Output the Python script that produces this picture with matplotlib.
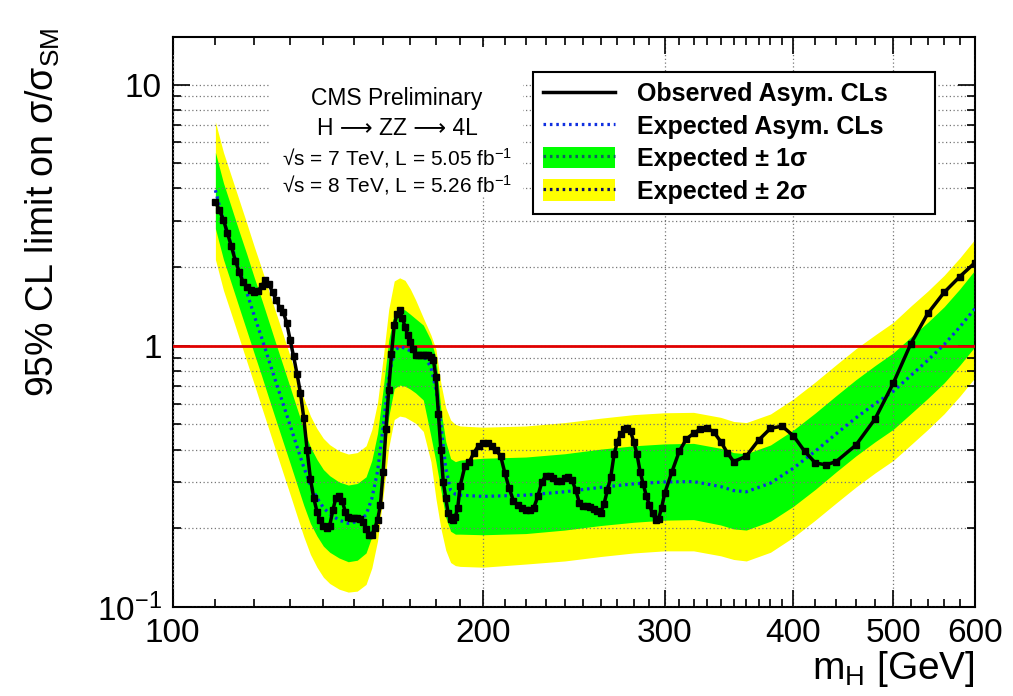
import matplotlib
matplotlib.use("Agg")
import matplotlib.pyplot as plt
from matplotlib.lines import Line2D
from matplotlib.patches import Patch, Rectangle
from matplotlib.ticker import FixedLocator, FixedFormatter, NullFormatter

plt.rcParams["font.family"] = ["Liberation Sans", "DejaVu Sans"]
plt.rcParams["mathtext.fontset"] = "custom"
plt.rcParams["mathtext.rm"] = "Liberation Sans"
plt.rcParams["mathtext.it"] = "Liberation Sans:italic"

# expected limit and bands
mass_exp = [110, 112, 114, 116, 118, 120, 122, 124, 126, 128, 130, 132, 134, 136, 138,
            140, 142, 145, 148, 151, 154, 156, 158, 160, 162, 164, 166, 168, 170, 172,
            175, 178, 180, 182, 184, 186, 188, 190, 200, 220, 240, 260, 280, 300, 320,
            340, 350, 360, 380, 400, 420, 440, 460, 480, 500, 520, 540, 560, 580, 600]
exp_median = [3.94, 3.00, 2.42, 1.96, 1.60, 1.30, 1.07, 0.876, 0.721, 0.597, 0.495, 0.411,
              0.343, 0.293, 0.262, 0.240, 0.227, 0.215, 0.209, 0.212, 0.225, 0.260, 0.33,
              0.49, 0.75, 0.96, 0.99, 0.98, 0.955, 0.935, 0.92, 0.83, 0.68, 0.50, 0.34,
              0.28, 0.27, 0.268, 0.265, 0.268, 0.276, 0.287, 0.296, 0.301, 0.302, 0.289,
              0.279, 0.276, 0.298, 0.340, 0.395, 0.460, 0.53, 0.60, 0.67, 0.77, 0.88,
              1.01, 1.18, 1.39]
exp_hi1 = [5.5, 4.2, 3.39, 2.74, 2.24, 1.82, 1.50, 1.23, 1.01, 0.836, 0.693, 0.575, 0.480,
           0.410, 0.367, 0.336, 0.318, 0.301, 0.293, 0.297, 0.315, 0.364, 0.462, 0.686,
           1.05, 1.34, 1.39, 1.37, 1.32, 1.27, 1.20, 1.05, 0.90, 0.57, 0.43, 0.37,
           0.36, 0.365, 0.371, 0.375, 0.386, 0.402, 0.414, 0.421, 0.423, 0.405, 0.39,
           0.386, 0.417, 0.476, 0.553, 0.644, 0.742, 0.84, 0.94, 1.08, 1.23, 1.41, 1.65,
           1.95]
exp_lo1 = [2.81, 2.14, 1.73, 1.40, 1.14, 0.93, 0.764, 0.626, 0.515, 0.426, 0.354, 0.294,
           0.245, 0.209, 0.187, 0.171, 0.162, 0.154, 0.149, 0.151, 0.161, 0.186, 0.236,
           0.35, 0.536, 0.686, 0.707, 0.70, 0.682, 0.66, 0.62, 0.45, 0.36, 0.28,
           0.22, 0.195, 0.19, 0.19, 0.189, 0.191, 0.197, 0.205, 0.211, 0.215, 0.216,
           0.206, 0.199, 0.197, 0.213, 0.243, 0.282, 0.329, 0.379, 0.429, 0.479, 0.55,
           0.629, 0.721, 0.843, 0.993]
exp_hi2 = [7.2, 5.5, 4.45, 3.61, 2.94, 2.39, 1.97, 1.61, 1.33, 1.10, 0.911, 0.756, 0.631,
           0.539, 0.482, 0.442, 0.418, 0.396, 0.385, 0.390, 0.414, 0.478, 0.607, 0.90,
           1.38, 1.77, 1.82, 1.78, 1.65, 1.50, 1.28, 1.10, 0.97, 0.72, 0.58, 0.52,
           0.50, 0.493, 0.488, 0.493, 0.508, 0.528, 0.545, 0.554, 0.556, 0.532, 0.513,
           0.508, 0.548, 0.626, 0.727, 0.846, 0.975, 1.10, 1.23, 1.42, 1.62, 1.86, 2.17,
           2.56]
exp_lo2 = [2.14, 1.63, 1.32, 1.07, 0.87, 0.71, 0.58, 0.476, 0.392, 0.324, 0.269, 0.223,
           0.186, 0.159, 0.142, 0.130, 0.123, 0.117, 0.114, 0.115, 0.122, 0.141, 0.179,
           0.266, 0.408, 0.522, 0.538, 0.533, 0.519, 0.505, 0.47, 0.36, 0.26, 0.20,
           0.165, 0.148, 0.144, 0.143, 0.142, 0.146, 0.150, 0.156, 0.161, 0.164, 0.164,
           0.157, 0.152, 0.150, 0.162, 0.185, 0.215, 0.25, 0.288, 0.326, 0.364, 0.418,
           0.478, 0.549, 0.641, 0.755]

# observed limit
mass_obs = [110, 111, 112, 113, 114, 115, 116, 117, 118, 119, 120, 121, 122, 123, 124, 125,
            126, 127, 128, 129, 130, 131, 132, 133, 134, 135, 136, 137, 138, 139, 140, 141,
            142, 143, 144, 145, 146, 147, 148, 149, 150, 151, 152, 153, 154, 155, 156, 157,
            158, 159, 160, 161, 162, 163, 164, 165, 166, 167, 168, 169, 170, 171, 172, 173,
            174, 175, 176, 177, 178, 179, 180, 181, 182, 183, 184, 185, 186, 187, 188, 189,
            190, 192, 194, 196, 198, 200, 202, 204, 206, 208, 210, 212, 214, 216, 218, 220,
            222, 224, 226, 228, 230, 232, 234, 236, 238, 240, 242, 244, 246, 248, 250, 252,
            254, 256, 258, 260, 262, 264, 266, 268, 270, 272, 274, 276, 278, 280, 282, 284,
            286, 288, 290, 292, 294, 296, 298, 300, 305, 310, 315, 320, 325, 330, 335, 340,
            345, 350, 360, 370, 380, 390, 400, 410, 420, 430, 440, 460, 480, 500, 520, 540,
            560, 580, 600]
obs_limit = [3.55, 3.30, 3.03, 2.70, 2.40, 2.12, 1.92, 1.75, 1.68, 1.64, 1.61, 1.62, 1.70,
             1.78, 1.72, 1.60, 1.50, 1.40, 1.35, 1.22, 1.05, 0.91, 0.78, 0.66, 0.53, 0.40,
             0.31, 0.262, 0.232, 0.215, 0.205, 0.200, 0.205, 0.235, 0.262, 0.265, 0.255,
             0.232, 0.222, 0.220, 0.219, 0.219, 0.217, 0.212, 0.198, 0.188, 0.189, 0.200,
             0.215, 0.245, 0.330, 0.48, 0.68, 0.93, 1.20, 1.32, 1.37, 1.28, 1.18, 1.10,
             1.036, 0.97, 0.925, 0.921, 0.921, 0.921, 0.921, 0.921, 0.905, 0.882, 0.76,
             0.55, 0.40, 0.30, 0.262, 0.228, 0.218, 0.215, 0.222, 0.240, 0.290, 0.345,
             0.360, 0.390, 0.415, 0.423, 0.425, 0.415, 0.398, 0.378, 0.325, 0.285, 0.255,
             0.245, 0.240, 0.236, 0.235, 0.240, 0.265, 0.300, 0.318, 0.318, 0.312, 0.303,
             0.303, 0.312, 0.315, 0.305, 0.280, 0.250, 0.244, 0.243, 0.241, 0.238, 0.233,
             0.228, 0.248, 0.280, 0.315, 0.385, 0.430, 0.458, 0.478, 0.484, 0.470, 0.430,
             0.385, 0.330, 0.295, 0.266, 0.245, 0.228, 0.216, 0.218, 0.240, 0.272, 0.330,
             0.395, 0.440, 0.462, 0.480, 0.485, 0.466, 0.430, 0.390, 0.360, 0.378, 0.435,
             0.483, 0.492, 0.452, 0.395, 0.356, 0.350, 0.360, 0.417, 0.525, 0.72, 1.02,
             1.33, 1.60, 1.84, 2.08]

x_major = [100, 200, 300, 400, 500, 600]
x_minor = (list(range(110, 200, 10)) + list(range(210, 300, 10)) + list(range(310, 400, 10))
           + list(range(420, 500, 20)) + list(range(520, 600, 20)))
y_major = [0.1, 1, 10]
y_major_labels = [r"$\mathregular{10^{-1}}$", "1", "10"]
y_minor = [k * 0.1 for k in range(2, 10)] + list(range(2, 10))

green = "#00ff00"
yellow = "#ffff00"
blue = "#1030e0"
dots = (0, (0.8, 1.2))

fig = plt.figure(figsize=(10.13, 6.96), dpi=100)
ax = fig.add_axes([0.1705, 0.1279, 0.792, 0.8189])
ax.set_xscale("log")
ax.set_yscale("log")

ax.fill_between(mass_exp, exp_lo2, exp_hi2, color=yellow, lw=0, zorder=1)
ax.fill_between(mass_exp, exp_lo1, exp_hi1, color=green, lw=0, zorder=1.1)
ax.axhline(1.0, color="#e00000", lw=2, zorder=3)
ax.plot(mass_exp, exp_median, color=blue, lw=2.3, ls=dots, zorder=3.2)
ax.plot(mass_obs, obs_limit, color="black", lw=2.5, marker="s", ms=4, zorder=3.5)

ax.set_xlim(100, 600)
ax.set_ylim(0.1, 15.2)

ax.xaxis.set_major_locator(FixedLocator(x_major))
ax.xaxis.set_major_formatter(FixedFormatter([str(v) for v in x_major]))
ax.xaxis.set_minor_locator(FixedLocator(x_minor))
ax.xaxis.set_minor_formatter(NullFormatter())
ax.yaxis.set_major_locator(FixedLocator(y_major))
ax.yaxis.set_major_formatter(FixedFormatter(y_major_labels))
ax.yaxis.set_minor_locator(FixedLocator(y_minor))
ax.yaxis.set_minor_formatter(NullFormatter())

ax.tick_params(which="both", direction="in", top=True, right=True, width=1.2)
ax.tick_params(which="major", length=12, labelsize=24, pad=8)
ax.tick_params(which="minor", length=6)
for s in ax.spines.values():
    s.set_linewidth(1.5)

ax.set_axisbelow(False)
grid_kw = dict(color="#777777", lw=0.9, ls=(0, (1, 2)))
ax.grid(True, which="major", axis="x", **grid_kw)
ax.grid(True, which="both", axis="y", **grid_kw)

ax.set_ylabel(r"95% CL limit on σ/σ$_\mathregular{SM}$", fontsize=27, loc="top")
ax.yaxis.set_label_coords(-0.138, 1.016)
ax.set_xlabel(r"$\mathregular{m_H}$ [GeV]", fontsize=28, loc="right", labelpad=0)

# text panel with white background
ax.add_patch(Rectangle((0.1213, 0.7193), 0.3153, 0.263, transform=ax.transAxes,
                       facecolor="white", edgecolor="none", zorder=2.8))
ax.text(0.2796, 0.893, "CMS Preliminary", transform=ax.transAxes, ha="center",
        va="center", fontsize=16.5, zorder=4)
ax.text(0.2796, 0.840, "H ⟶ ZZ ⟶ 4L", transform=ax.transAxes,
        ha="center", va="center", fontsize=16.5, zorder=4)
ax.text(0.2796, 0.788, r"√s = 7 TeV, L = 5.05 $\mathregular{fb^{-1}}$", transform=ax.transAxes,
        ha="center", va="center", fontsize=15, zorder=4)
ax.text(0.2796, 0.740, r"√s = 8 TeV, L = 5.26 $\mathregular{fb^{-1}}$", transform=ax.transAxes,
        ha="center", va="center", fontsize=15, zorder=4)

handles = [
    Line2D([], [], color="black", lw=2.5),
    Line2D([], [], color=blue, lw=2.3, ls=dots),
    (Patch(facecolor=green, edgecolor="none"), Line2D([], [], color="#106060", lw=2.3, ls=dots)),
    (Patch(facecolor=yellow, edgecolor="none"), Line2D([], [], color="#101060", lw=2.3, ls=dots)),
]
labels = ["Observed Asym. CLs", "Expected Asym. CLs", "Expected ± 1σ", "Expected ± 2σ"]
leg = ax.legend(handles, labels, loc="upper left", bbox_to_anchor=(0.449, 0.6965, 0.501, 0.2421),
                mode="expand", borderaxespad=0, prop={"weight": "bold", "size": 18},
                handlelength=2.9, handleheight=0.95, handletextpad=0.85, labelspacing=0.32,
                borderpad=0.4, fancybox=False, framealpha=1, edgecolor="black")
leg.get_frame().set_linewidth(1.5)
leg.set_zorder(6)

fig.savefig("out.png", dpi=100)
